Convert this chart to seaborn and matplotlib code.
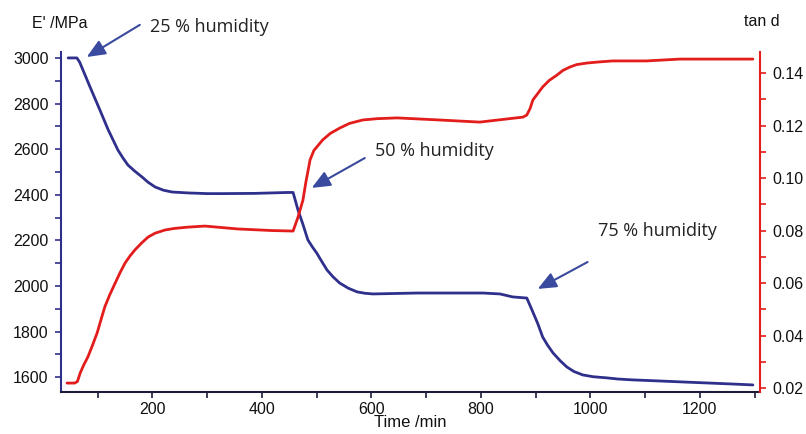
import matplotlib
matplotlib.use('Agg')
import matplotlib.pyplot as plt
from matplotlib.ticker import MultipleLocator
import seaborn as sns

# storage modulus E' (left axis, blue)
t_mod = [46, 62, 67, 86, 104, 119, 137, 146, 155, 168, 181, 192, 205, 220, 236, 265,
         300, 327, 387, 447, 457, 466, 475, 484, 492, 500, 510, 519, 530, 542, 558,
         574, 588, 603, 683, 743, 804, 835, 858, 884, 895, 904, 913, 922, 932, 945,
         957, 970, 986, 1005, 1030, 1050, 1078, 1120, 1169, 1260, 1297]
e_mod = [3000, 3000, 2982, 2873, 2772, 2686, 2596, 2562, 2531, 2503, 2478, 2455, 2434,
         2420, 2412, 2408, 2405, 2405, 2406, 2410, 2410, 2333, 2270, 2202, 2172, 2145,
         2105, 2070, 2040, 2013, 1990, 1974, 1968, 1965, 1969, 1969, 1969, 1965, 1952,
         1947, 1886, 1835, 1776, 1740, 1706, 1672, 1645, 1625, 1610, 1602, 1597, 1592,
         1588, 1584, 1579, 1570, 1566]

# loss factor tan d (right axis, red)
t_tan = [44, 58, 63, 68, 75, 82, 90, 99, 106, 113, 122, 132, 141, 150, 159, 168, 180,
         192, 205, 223, 240, 265, 296, 356, 418, 457, 466, 470, 475, 480, 488, 495, 511,
         525, 542, 560, 584, 610, 647, 725, 798, 877, 884, 890, 895, 904, 913, 925, 939,
         950, 963, 975, 994, 1015, 1041, 1103, 1163, 1224, 1297]
tan_d = [0.0219, 0.0219, 0.0225, 0.0257, 0.0290, 0.0318, 0.0360, 0.0410, 0.0460, 0.0509,
         0.0555, 0.0600, 0.0640, 0.0676, 0.0703, 0.0726, 0.0752, 0.0775, 0.0790, 0.0802,
         0.0808, 0.0813, 0.0817, 0.0806, 0.0800, 0.0798, 0.0851, 0.0880, 0.0916, 0.0980,
         0.1069, 0.1105, 0.1145, 0.1170, 0.1190, 0.1208, 0.1221, 0.1226, 0.1229, 0.1221,
         0.1213, 0.1232, 0.1240, 0.1265, 0.1297, 0.1322, 0.1347, 0.1372, 0.1392, 0.1410,
         0.1423, 0.1432, 0.1438, 0.1442, 0.1446, 0.1446, 0.1453, 0.1453, 0.1453]

# humidity steps: label, arrow head (min, MPa), arrow tail, text position
labels = ['25 % humidity', '50 % humidity', '75 % humidity']
heads = [(80, 3004), (491, 2430), (904, 1987)]
tails = [(177, 3145), (588, 2561), (995, 2105)]
text_pos = [(195, 3136), (606, 2592), (1014, 2241)]

sns.set_theme(style='white')
plt.rcParams['font.family'] = ['Liberation Sans', 'DejaVu Sans']

navy = '#2f2f8c'
red = '#e31c1c'
arrow_c = '#3a4a9e'

fig = plt.figure(figsize=(8.06, 4.34), dpi=100)
ax = fig.add_axes([61 / 806, 1 - 392 / 434, (760 - 61) / 806, (392 - 52) / 434])
ax2 = ax.twinx()

sns.lineplot(x=t_mod, y=e_mod, ax=ax, color=navy, lw=2.0)
sns.lineplot(x=t_tan, y=tan_d, ax=ax2, color=red, lw=2.0)

ax.set_xlim(33, 1310)
ax.set_ylim(1535, 3026)
ax2.set_ylim(0.0185, 0.148)

ax.xaxis.set_major_locator(MultipleLocator(200))
ax.xaxis.set_minor_locator(MultipleLocator(100))
ax.yaxis.set_major_locator(MultipleLocator(200))
ax.yaxis.set_minor_locator(MultipleLocator(100))
ax2.yaxis.set_major_locator(MultipleLocator(0.02))
ax2.yaxis.set_minor_locator(MultipleLocator(0.01))
ax2.yaxis.set_major_formatter(plt.FormatStrFormatter('%.2f'))

for a in (ax, ax2):
    for s in a.spines.values():
        s.set_visible(False)
ax.spines['left'].set_visible(True)
ax.spines['left'].set_color(navy)
ax.spines['left'].set_linewidth(1.5)
ax.spines['bottom'].set_visible(True)
ax.spines['bottom'].set_color('#1c1c3a')
ax.spines['bottom'].set_linewidth(1.5)
ax2.spines['right'].set_visible(True)
ax2.spines['right'].set_color(red)
ax2.spines['right'].set_linewidth(1.5)

ax.tick_params(axis='y', which='both', left=True, direction='out', length=4, width=1.2,
               color=navy, labelcolor='#111111', labelsize=11.5, pad=5)
ax.tick_params(axis='x', which='both', bottom=True, direction='out', length=4, width=1.2,
               color='#1c1c3a', labelcolor='#111111', labelsize=11.5, pad=3)
ax2.tick_params(axis='y', which='both', right=True, direction='out', length=4, width=1.2,
                color=red, labelcolor='#111111', labelsize=11.5, pad=5)

ax.set_xlabel('Time /min', fontsize=12, color='#111111', labelpad=-1)
ax.set_ylabel('')
ax2.set_ylabel('')
fig.text(60 / 806, 1 - 24 / 434, "E' /MPa", ha='center', va='center', fontsize=11.5,
         color='#111111')
fig.text(762 / 806, 1 - 22 / 434, 'tan d', ha='center', va='center', fontsize=11.5,
         color='#111111')

for lab, h, t, p in zip(labels, heads, tails, text_pos):
    ax.annotate('', xy=h, xytext=t, annotation_clip=False,
                arrowprops=dict(arrowstyle='-|>,head_length=0.7,head_width=0.3',
                                mutation_scale=16, color=arrow_c, lw=1.5,
                                shrinkA=0, shrinkB=0))
    ax.text(p[0], p[1], lab, ha='left', va='center', fontsize=13,
            family=['Open Sans', 'DejaVu Sans'], color='#222222', clip_on=False)

fig.savefig('out.png', dpi=100)
